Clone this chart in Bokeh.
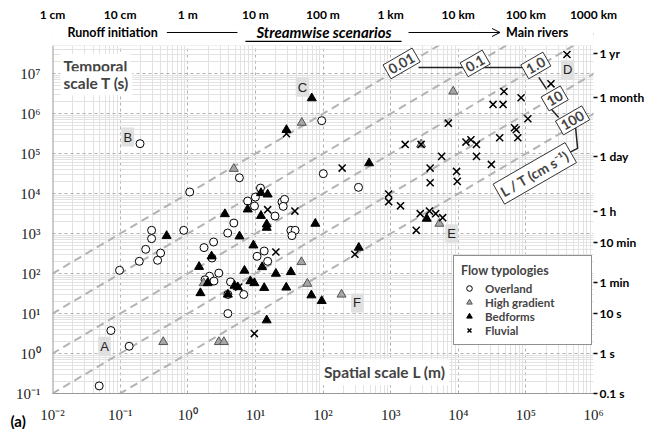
import numpy as np
from bokeh.plotting import figure
from bokeh.models import (LogAxis, FixedTicker, Label, Arrow, OpenHead, BoxAnnotation,
                          CustomJSTickFormatter, Title)
from bokeh.embed import file_html
from bokeh.resources import INLINE

# ---------------- data (L in m, T in s) ----------------
overland_L = [0.197, 0.049, 0.073, 0.136, 0.098, 0.192, 0.239, 0.292, 0.292, 0.358,
              0.397, 0.873, 1.07, 5.8, 11.9, 10.0, 7.7, 9.7, 24.7, 27,
              25.8, 19.5, 4.8, 3.9, 2.41, 1.74, 2.28, 13.5, 10.6, 15.2,
              2.88, 2.1, 2.44, 1.8, 4.29, 3.92, 6.73, 3.92, 95.7, 101,
              335, 33.5, 38.7, 34.7]
overland_T = [1.78e5, 0.155, 3.76, 1.52, 121, 203, 405, 750, 1210, 215,
              327, 1210, 1.1e4, 2.5e4, 1.38e4, 8200, 6530, 4900, 6170, 7200,
              4820, 2750, 1840, 1035, 617, 447, 245, 367, 271, 203,
              103, 86, 65, 70, 62, 30, 30, 10, 6.7e5, 3.16e4,
              1.44e4, 1210, 1210, 891]

highgrad_L = [0.434, 2.88, 3.42, 4.8, 1.72, 48.6, 48, 58.7, 188, 8430, 2820, 5260]
highgrad_T = [1.95, 1.95, 1.95, 4.2e4, 58, 5.96e5, 195, 56, 30, 3.6e6, 1.71e5, 1780]

bedforms_L = [0.487, 1.47, 1.54, 2.25, 12.1, 15.2, 7.7, 3.54, 12.1, 14.7,
              14.7, 5.82, 9.35, 12.6, 6.9, 20.1, 33.5, 1.97, 8.44, 9.66,
              4.91, 5.5, 13.5, 28.6, 3.92, 67.3, 95.7, 14.7, 68.2, 28.8,
              480, 77, 338, 3420]
bedforms_T = [881, 148, 32.6, 271, 1.04e4, 9600, 4050, 3090, 2790, 1710,
              1410, 857, 510, 146, 119, 100, 110, 58, 65, 58,
              50, 46, 44, 45, 30, 28.7, 20.7, 6.8, 2.45e6, 3.94e5,
              5.8e4, 1780, 447, 2370]

fluvial_L = [15.2, 20.1, 5.68, 9.66, 192, 38.4, 28.8, 296, 935, 935,
             1400, 2740, 3750, 4640, 5880, 2390, 3840, 3840, 9440, 9660,
             5680, 1.86e4, 3.09e4, 1640, 2820, 1.3e4, 1.54e4, 1.86e4, 4.1e4, 6.8e4,
             7.2e4, 7.6e4, 1.07e5, 7130, 4.74e4, 3.27e4, 4.6e4, 8.5e4, 2.35e5, 4.05e5]
fluvial_T = [3980, 347, 46, 3.16, 4.37e4, 3670, 3.16e5, 304, 9770, 6310,
             4950, 3160, 3670, 3160, 2510, 1210, 1.88e4, 4.37e4, 3.61e4, 2.03e4,
             8.57e4, 8.57e4, 5.4e4, 1.71e5, 1.71e5, 1.95e5, 2.24e5, 1.71e5, 2.51e5, 4.47e5,
             3.98e5, 2.51e5, 7.5e5, 5.8e5, 3.6e6, 1.71e6, 1.71e6, 2.51e6, 5.6e6, 3.04e7]

speeds_cm_s = [0.01, 0.1, 1.0, 10, 100]
speed_texts = ["0.01", "0.1", "1.0", "10", "100"]

x_tick_values = [1e-2, 1e-1, 1e0, 1e1, 1e2, 1e3, 1e4, 1e5, 1e6]
x_tick_labels = ["10\u207b\u00b2", "10\u207b\u00b9", "10\u2070", "10\u00b9", "10\u00b2",
                 "10\u00b3", "10\u2074", "10\u2075", "10\u2076"]
y_tick_values = [1e-1, 1e0, 1e1, 1e2, 1e3, 1e4, 1e5, 1e6, 1e7]
y_tick_labels = ["10\u207b\u00b9", "10\u2070", "10\u00b9", "10\u00b2", "10\u00b3",
                 "10\u2074", "10\u2075", "10\u2076", "10\u2077"]
length_labels = ["1 cm", "10 cm", "1 m", "10 m", "100 m", "1 km", "10 km", "100 km", "1000 km"]
time_values_s = [0.1, 1, 10, 60, 600, 3600, 86400, 2592000, 31536000]
time_labels = ["0.1 s", "1 s", "10 s", "1 min", "10 min", "1 h", "1 day", "1 month", "1 yr"]

point_letters = ["A", "B", "C", "D", "E", "F"]

# ---------------- figure ----------------
SANS = "Lato"
SERIF = "Liberation Serif"
T_TOP = 10 ** 7.71          # top of the data panel
Y_HEAD = 10 ** 8.2325       # frame extends up to hold the scenario header row

p = figure(width=647, height=429, x_axis_type="log", y_axis_type="log",
           x_range=(1e-2, 1e6), y_range=(1e-1, Y_HEAD),
           output_backend="svg", toolbar_location=None,
           min_border_left=52, min_border_right=51, min_border_top=24, min_border_bottom=36)
p.outline_line_color = None

xminor = [m * 10.0 ** k for k in range(-2, 6) for m in range(2, 10)]
yminor = [m * 10.0 ** k for k in range(-1, 8) for m in range(2, 10)]
xt = FixedTicker(ticks=x_tick_values, minor_ticks=xminor)
yt = FixedTicker(ticks=y_tick_values, minor_ticks=yminor)
p.xaxis.ticker = xt
p.xgrid.ticker = xt
p.yaxis.ticker = yt
p.ygrid.ticker = yt

for g in (p.xgrid, p.ygrid):
    g.grid_line_color = "#b0b0b0"
    g.grid_line_dash = "3 3"
    g.grid_line_width = 1
    g.minor_grid_line_color = "#e2e2e2"
    g.minor_grid_line_width = 1

lookup = """
let best = 0, bd = Infinity;
for (let i = 0; i < vals.length; i++) {
  const d = Math.abs(Math.log(vals[i]) - Math.log(tick));
  if (d < bd) { bd = d; best = i; }
}
return labs[best];
"""
p.xaxis.formatter = CustomJSTickFormatter(args=dict(vals=x_tick_values, labs=x_tick_labels), code=lookup)
p.yaxis.formatter = CustomJSTickFormatter(args=dict(vals=y_tick_values, labs=y_tick_labels), code=lookup)

for ax in (p.xaxis, p.yaxis):
    ax.major_tick_line_color = None
    ax.minor_tick_line_color = None
    ax.major_tick_out = 0
    ax.major_tick_in = 0
    ax.major_label_text_font = SERIF
    ax.major_label_text_font_size = "15px"
    ax.major_label_text_color = "#222222"
p.xaxis.axis_line_color = "#999999"
p.yaxis.axis_line_color = None
p.xaxis.major_label_standoff = 9
p.yaxis.major_label_standoff = 8

# right axis: time equivalents
ra = LogAxis(ticker=FixedTicker(ticks=time_values_s),
             formatter=CustomJSTickFormatter(args=dict(vals=time_values_s, labs=time_labels), code=lookup))
ra.axis_line_color = None
ra.minor_tick_line_color = None
ra.major_tick_out = 4
ra.major_tick_in = 0
ra.major_tick_line_width = 1.5
ra.major_tick_line_color = "black"
ra.major_label_standoff = 2
ra.major_label_text_font = SANS
ra.major_label_text_font_style = "bold"
ra.major_label_text_font_size = "12px"
ra.major_label_text_color = "black"
p.add_layout(ra, "right")

# top axis: length equivalents
ta = LogAxis(ticker=FixedTicker(ticks=x_tick_values),
             formatter=CustomJSTickFormatter(args=dict(vals=x_tick_values, labs=length_labels), code=lookup))
ta.axis_line_color = None
ta.major_tick_line_color = None
ta.minor_tick_line_color = None
ta.major_tick_out = 0
ta.major_tick_in = 0
ta.major_label_standoff = 3
ta.major_label_text_font = SANS
ta.major_label_text_font_style = "bold"
ta.major_label_text_font_size = "12px"
ta.major_label_text_color = "black"
p.add_layout(ta, "above")

# left axis line (only along the data panel)
p.segment(x0=[1e-2], y0=[1e-1], x1=[1e-2], y1=[T_TOP], line_color="#999999", line_width=2)

# ---------------- iso-velocity lines ----------------
Lgrid = np.logspace(-3, 8, 60)
for v in speeds_cm_s:
    p.line(Lgrid, Lgrid / (v / 100.0), line_color="#b3b3b3", line_width=2, line_dash="8 5")

conn_x = [[10 ** 3.412, 10 ** 5.0], [10 ** 5.191, 10 ** 5.309], [10 ** 5.368, 10 ** 5.485],
          [10 ** 5.735, 10 ** 5.765, 10 ** 5.647]]
conn_y = [[10 ** 7.158, 10 ** 7.158], [10 ** 6.908, 10 ** 6.608], [10 ** 6.133, 10 ** 5.908],
          [10 ** 5.658, 10 ** 5.133, 10 ** 5.033]]
p.multi_line(conn_x, conn_y, line_color="#222222", line_width=1.5)

# ---------------- markers ----------------
p.scatter(overland_L, overland_T, marker="circle", size=8, fill_color="white",
          line_color="black", line_width=1, legend_label="Overland")
p.scatter(highgrad_L, highgrad_T, marker="triangle", size=9, fill_color="#a6a6a6",
          line_color="#555555", line_width=1, legend_label="High gradient")
p.scatter(bedforms_L, bedforms_T, marker="triangle", size=9, fill_color="black",
          line_color="black", line_width=1, legend_label="Bedforms")
p.scatter(fluvial_L, fluvial_T, marker="x", size=10, line_color="black",
          line_width=1.5, legend_label="Fluvial")

# white header strip above the data panel
p.add_layout(BoxAnnotation(bottom=T_TOP, fill_color="white", fill_alpha=1.0,
                           line_color=None, line_alpha=0))

lg = p.legend[0]
lg.location = (401, 48)
lg.title = "Flow typologies"
lg.title_text_font = SANS
lg.title_text_font_style = "bold"
lg.title_text_font_size = "12.5px"
lg.title_standoff = 3
lg.label_text_font = SANS
lg.label_text_font_style = "bold"
lg.label_text_font_size = "11.5px"
lg.glyph_width = 16
lg.glyph_height = 14
lg.label_height = 14
lg.label_width = 99
lg.label_standoff = 8
lg.spacing = 0
lg.padding = 7
lg.margin = 0
lg.border_line_color = "#222222"
lg.border_line_width = 1.2
lg.background_fill_color = "white"
lg.background_fill_alpha = 1.0

p.add_layout(Arrow(end=None, x_start=10 ** 4.03, y_start=10 ** 1.76, x_end=10 ** 5.33, y_end=10 ** 1.76,
                   line_color="black", line_width=1, level="overlay"))

# ---------------- labels ----------------
speed_label_pos = [(3.162, 7.258), (4.25, 7.258), (5.147, 7.208), (5.426, 6.383), (5.691, 5.833)]
for (lx, ly), t in zip(speed_label_pos, speed_texts):
    p.add_layout(Label(x=10 ** lx, y=10 ** ly, text=t, angle=30, angle_units="deg",
                       text_align="center", text_baseline="middle",
                       text_font=SANS, text_font_style="bold", text_font_size="14px",
                       background_fill_color="white", border_line_color="#333333",
                       border_line_width=1, padding=3))
p.add_layout(Label(x=10 ** 5.132, y=10 ** 4.508, text="L / T (cm s\u207b\u00b9)", angle=30,
                   angle_units="deg", text_align="center", text_baseline="middle",
                   text_font=SANS, text_font_style="bold", text_font_size="14px",
                   background_fill_color="white", border_line_color="#333333",
                   border_line_width=1, padding=3))

letter_pos = [(-1.231, 0.183), (-0.887, 5.415), (1.696, 6.665), (5.618, 7.1), (3.901, 3.0), (2.504, 1.265)]
for (lx, ly), t in zip(letter_pos, point_letters):
    p.add_layout(Label(x=10 ** lx, y=10 ** ly, text=t, text_align="center", text_baseline="middle",
                       text_font="Liberation Sans", text_font_size="13px", text_color="#222222",
                       background_fill_color="#e0e0e0", padding=2))

p.add_layout(Label(x=10 ** -1.882, y=10 ** 7.2, text="Temporal", text_align="left",
                   text_baseline="middle", text_font=SANS, text_font_style="bold",
                   text_font_size="15.5px", background_fill_color="white", padding=3))
p.add_layout(Label(x=10 ** -1.882, y=10 ** 6.76, text="scale T (s)", text_align="left",
                   text_baseline="middle", text_font=SANS, text_font_style="bold",
                   text_font_size="15.5px", background_fill_color="white", padding=3))
p.add_layout(Label(x=10 ** 2.912, y=10 ** -0.468, text="Spatial scale L (m)", text_align="center",
                   text_baseline="middle", text_font=SANS, text_font_style="bold",
                   text_font_size="15.5px", background_fill_color="white", padding=4))

# scenario header row (inside the white strip)
Y_ROW = 10 ** 8.0325
p.add_layout(Label(x=10 ** -0.441, y=Y_ROW, text="Runoff initiation", text_align="right",
                   text_baseline="middle", text_font=SANS, text_font_style="bold",
                   text_font_size="12.5px", text_color="black"))
p.add_layout(Arrow(end=None, x_start=10 ** -0.309, y_start=Y_ROW, x_end=10 ** 0.735, y_end=Y_ROW,
                   line_color="black", line_width=1, level="overlay"))
p.add_layout(Label(x=10 ** 2.015, y=10 ** 8.045, text="Streamwise scenarios", text_align="center",
                   text_baseline="middle", text_font=SANS, text_font_style="bold italic",
                   text_font_size="15px", text_color="black"))
p.add_layout(Arrow(end=None, x_start=10 ** 0.853, y_start=10 ** 7.81, x_end=10 ** 3.162, y_end=10 ** 7.81,
                   line_color="black", line_width=1.3, level="overlay"))
p.add_layout(Arrow(end=OpenHead(size=8, line_width=1, line_color="black"),
                   x_start=10 ** 3.265, y_start=Y_ROW, x_end=10 ** 4.618, y_end=Y_ROW,
                   line_color="black", line_width=1, level="overlay"))
p.add_layout(Label(x=10 ** 4.706, y=Y_ROW, text="Main rivers", text_align="left",
                   text_baseline="middle", text_font=SANS, text_font_style="bold",
                   text_font_size="12.5px", text_color="black"))

# panel tag below the axis
p.add_layout(Title(text="(a)", align="left", offset=-42, standoff=-28, vertical_align="top",
                   text_font=SANS, text_font_style="bold", text_font_size="15px",
                   text_color="black"), "below")

open("out.html", "w").write(file_html(p, INLINE))
